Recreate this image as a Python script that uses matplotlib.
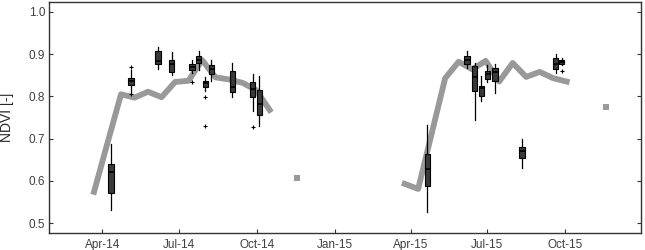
import matplotlib
matplotlib.use('Agg')
import matplotlib.pyplot as plt
import matplotlib.dates as mdates
import pandas as pd

plt.rcParams['font.family'] = ['Liberation Sans', 'DejaVu Sans']

# NDVI reference line (16-day composites), with gaps between seasons
line14_dates = ['2014-03-22', '2014-04-07', '2014-04-23', '2014-05-09', '2014-05-25',
                '2014-06-10', '2014-06-26', '2014-07-12', '2014-07-28', '2014-08-13',
                '2014-08-29', '2014-09-14', '2014-09-30', '2014-10-16']
line14_vals = [0.574, 0.690, 0.805, 0.797, 0.811, 0.798, 0.834, 0.837, 0.886, 0.845,
               0.840, 0.832, 0.815, 0.768]
line15_dates = ['2015-03-25', '2015-04-10', '2015-04-26', '2015-05-12', '2015-05-28',
                '2015-06-13', '2015-06-29', '2015-07-15', '2015-07-31', '2015-08-16',
                '2015-09-01', '2015-09-17', '2015-10-03']
line15_vals = [0.593, 0.581, 0.712, 0.843, 0.882, 0.864, 0.884, 0.835, 0.879, 0.846,
               0.858, 0.843, 0.835]
single_dates = ['2014-11-17', '2015-11-18']
single_vals = [0.608, 0.775]

# boxplots of field measurements
box_dates = ['2014-04-11', '2014-05-05', '2014-06-06', '2014-06-22', '2014-07-16',
             '2014-07-24', '2014-08-01', '2014-08-08', '2014-09-02', '2014-09-26',
             '2014-10-04', '2015-04-21', '2015-06-07', '2015-06-16', '2015-06-24',
             '2015-07-01', '2015-07-10', '2015-08-11', '2015-09-20', '2015-09-27']
box_lo = [0.530, 0.807, 0.864, 0.850, 0.855, 0.862, 0.812, 0.837, 0.799, 0.766,
          0.730, 0.527, 0.866, 0.745, 0.789, 0.833, 0.807, 0.630, 0.856, 0.874]
box_q1 = [0.571, 0.828, 0.876, 0.858, 0.862, 0.878, 0.821, 0.854, 0.811, 0.799,
          0.757, 0.589, 0.876, 0.812, 0.801, 0.840, 0.837, 0.653, 0.864, 0.876]
box_med = [0.622, 0.836, 0.883, 0.876, 0.870, 0.887, 0.831, 0.864, 0.823, 0.817,
           0.783, 0.627, 0.886, 0.846, 0.819, 0.854, 0.858, 0.671, 0.876, 0.881]
box_q3 = [0.639, 0.843, 0.907, 0.887, 0.876, 0.895, 0.836, 0.874, 0.860, 0.833,
          0.815, 0.664, 0.895, 0.873, 0.825, 0.859, 0.866, 0.681, 0.890, 0.886]
box_hi = [0.687, 0.862, 0.917, 0.905, 0.886, 0.907, 0.845, 0.886, 0.878, 0.853,
          0.848, 0.732, 0.907, 0.880, 0.848, 0.875, 0.876, 0.699, 0.900, 0.890]
box_fliers = [[], [0.869, 0.806], [], [], [0.835], [], [0.798, 0.731], [], [], [0.727],
              [], [], [], [], [], [], [], [], [], [0.861]]

yticks = [0.5, 0.6, 0.7, 0.8, 0.9, 1.0]

fig = plt.figure(figsize=(6.45, 2.5), dpi=100)
ax = fig.add_axes([0.0764, 0.0668, 0.9174, 0.9264])

gray = '#999999'
ax.plot(pd.to_datetime(line14_dates), line14_vals, color=gray, lw=4.2, zorder=1)
ax.plot(pd.to_datetime(line15_dates), line15_vals, color=gray, lw=4.2, zorder=1)
ax.plot(pd.to_datetime(single_dates), single_vals, 's', color=gray, markersize=4.5,
        markeredgewidth=0, zorder=1)

stats = []
for i in range(len(box_dates)):
    stats.append(dict(med=box_med[i], q1=box_q1[i], q3=box_q3[i],
                      whislo=box_lo[i], whishi=box_hi[i], fliers=box_fliers[i]))
pos = mdates.date2num(pd.to_datetime(box_dates))
ax.bxp(stats, positions=pos, widths=6.5, patch_artist=True, showcaps=False,
       boxprops=dict(facecolor='#3a3a3a', edgecolor='black', linewidth=0.8),
       medianprops=dict(color='black', linewidth=1.2),
       whiskerprops=dict(color='black', linewidth=0.9),
       flierprops=dict(marker='+', markersize=3, markeredgecolor='black',
                       markeredgewidth=0.8),
       manage_ticks=False, zorder=3)

ax.set_xlim(pd.Timestamp('2014-01-28'), pd.Timestamp('2015-12-30'))
ax.set_ylim(0.476, 1.024)
ax.set_yticks(yticks)
ax.yaxis.set_major_formatter(plt.FormatStrFormatter('%.1f'))
ax.xaxis.set_major_locator(mdates.MonthLocator(bymonth=[1, 4, 7, 10]))
ax.xaxis.set_major_formatter(mdates.DateFormatter('%b-%y'))

ax.tick_params(direction='in', length=3, width=0.8, right=True, labelsize=8.5,
               labelcolor='#404040', color='#333333')
ax.tick_params(axis='y', pad=3)
ax.tick_params(axis='x', pad=4)
for s in ax.spines.values():
    s.set_color('#333333')
    s.set_linewidth(1.0)

ax.set_ylabel('NDVI [-]', fontsize=10, color='#262626')
ax.yaxis.set_label_coords(-0.06, 0.5)

fig.savefig('out.png', dpi=100)
